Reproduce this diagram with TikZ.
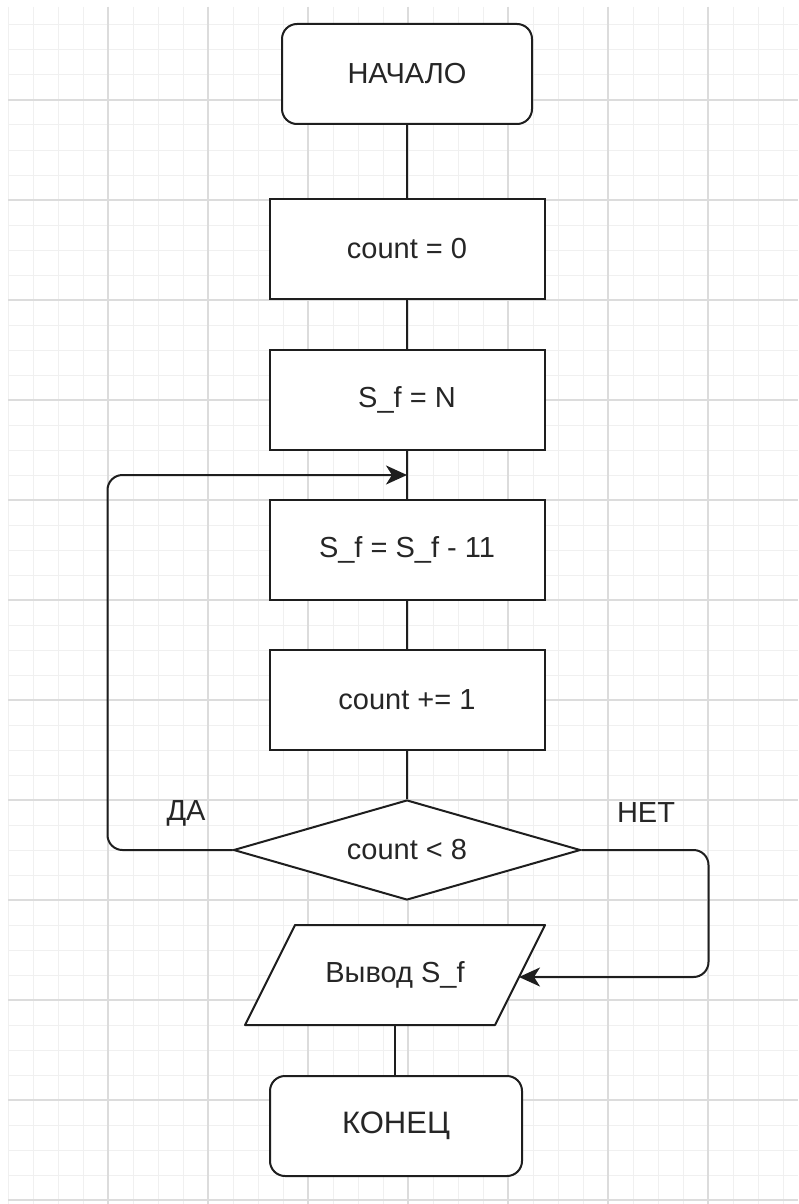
\documentclass[tikz,border=0pt]{standalone}
\usepackage{fontspec}
\setmainfont{Liberation Sans}
\usetikzlibrary{shapes.geometric,arrows.meta,calc}
\definecolor{linec}{HTML}{1E1E1E}
\definecolor{txtc}{HTML}{262626}
\definecolor{gmajor}{HTML}{DCDCDC}
\definecolor{gminor}{HTML}{F0F0F0}
\begin{document}
\begin{tikzpicture}[x=1pt,y=-1pt,
  box/.style={draw=linec, line width=2pt, fill=white, minimum width=275, minimum height=100, inner sep=0pt, font=\fontsize{29}{34}\selectfont, text=txtc},
  term/.style={box, rounded corners=15pt, minimum width=250},
  decision/.style={box, diamond, aspect=3.47, minimum width=347, minimum height=100},
  iobox/.style={inner sep=0pt, minimum width=250, minimum height=100, font=\fontsize{29}{34}\selectfont, text=txtc},
  conn/.style={draw=linec, line width=2pt},
  arr/.style={conn, rounded corners=15pt, -{Stealth[length=21pt,width=19pt,inset=6pt]}},
  lbl/.style={font=\fontsize{29}{34}\selectfont, text=txtc, inner sep=0pt}
]
\useasboundingbox (0,0) rectangle (798,1204);
\fill[white] (0,0) rectangle (798,1204);
% grid
\foreach \x in {8,33,...,798} \draw[gminor, line width=1pt] (\x,7) -- (\x,1204);
\foreach \y in {25,50,...,1204} \draw[gminor, line width=1pt] (8,\y) -- (798,\y);
\foreach \x in {108,208,...,708} \draw[gmajor, line width=1.2pt] (\x,7) -- (\x,1204);
\foreach \y in {100,200,...,1200} \draw[gmajor, line width=1.2pt] (8,\y) -- (798,\y);

% parallelogram outline (input/output block)
\coordinate (oc) at (395,975);
\draw[linec, line width=2pt, fill=white, line join=round]
  ($(oc)+(-100,-50)$) -- ($(oc)+(150,-50)$) --
  ($(oc)+(100,50)$) -- ($(oc)+(-150,50)$) -- cycle;

% nodes
\node[term] (start) at (407,74) {НАЧАЛО};
\node[box] (c0) at (407,249) {count = 0};
\node[box] (sfn) at (407,400) {S\_f = N};
\node[box] (sub) at (407,550) {S\_f = S\_f - 11};
\node[box] (inc) at (407,700) {count += 1};
\node[decision] (dec) at (407,850) {count < 8};
\node[iobox] (out) at (oc) {Вывод S\_f};
\node[term, minimum width=252, font=\fontsize{31}{36}\selectfont] (end) at (396,1126) {КОНЕЦ};

\coordinate (j) at ($(sfn.south)!0.5!(sub.north)$);
\coordinate (outR) at (519,977);

% connectors
\draw[conn] (start) -- (c0);
\draw[conn] (c0) -- (sfn);
\draw[conn] (sfn) -- (sub);
\draw[conn] (sub) -- (inc);
\draw[conn] (inc) -- (dec);
\draw[conn] (out.south) -- (out.south |- end.north);
\draw[arr] (dec.west) -- ++(-125,0) |- (j);
\draw[arr] (dec.east) -- ++(127,0) |- (outR);

\node[lbl] (yes) at (186,813) {ДА};
\node[lbl] (no) at (646,813) {НЕТ};
\end{tikzpicture}
\end{document}
